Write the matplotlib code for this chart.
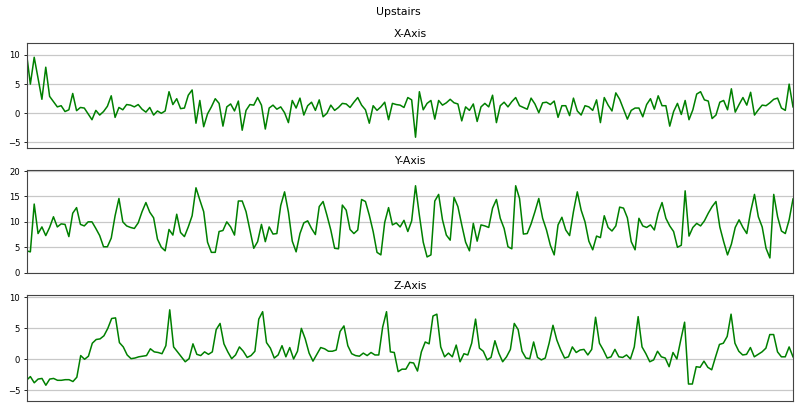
"""Upstairs accelerometer trace: X / Y / Z axis readings in three stacked panels."""
import matplotlib
matplotlib.use("Agg")
import matplotlib.pyplot as plt
import numpy as np

TITLE = "Upstairs"
PANEL_TITLES = ["X-Axis", "Y-Axis", "Z-Axis"]

x_axis = [
    10.3, 5.0, 9.6, 6.0, 2.4, 7.9, 2.9, 2.0, 1.1, 1.3, 0.3, 0.6, 3.4, 0.45, 1.0, 0.9,
    -0.1, -1.1, 0.5, -0.3, 0.3, 1.2, 3.0, -0.7, 1.0, 0.6, 1.5, 1.4, 1.1, 1.5, 0.7, 0.2,
    1.0, -0.3, 0.4, 0.0, 0.4, 3.7, 1.5, 2.5, 0.8, 0.9, 3.1, 4.0, -1.7, 2.2, -2.3, -0.1,
    1.1, 2.5, 1.7, -2.2, 1.1, 1.6, 0.4, 2.1, -2.9, 0.5, 1.5, 1.4, 2.7, 1.4, -2.7, 0.9,
    1.4, 0.7, 1.1, 0.1, -1.6, 2.2, 0.9, 2.6, -0.3, 1.3, 1.9, 0.5, 2.3, -0.6, 0.0, 1.4,
    0.5, 1.0, 1.7, 1.6, 1.0, 1.9, 2.7, 1.4, 0.6, -1.7, 1.3, 0.5, 1.1, 1.9, -1.1, 1.7,
    1.5, 1.4, 1.0, 2.7, 2.3, -4.1, 3.7, 0.6, 1.7, 2.2, -1.0, 2.2, 1.4, 1.8, 2.4, 1.8,
    1.6, -1.3, 1.1, 0.5, 1.6, -1.4, 1.1, 1.7, 1.1, 3.1, -1.6, 1.3, 1.9, 1.1, 2.0, 2.7,
    1.3, 1.0, 0.7, 2.6, 1.6, 0.1, 1.8, 1.9, 1.5, 2.1, -0.7, 1.3, 1.3, -0.4, 2.6, 0.4,
    -0.3, 1.3, 1.1, 0.5, 2.3, -1.6, 2.7, 1.4, 0.4, 3.5, 2.4, 0.7, -1.0, 0.5, 0.9, 0.9,
    -0.6, 1.5, 2.5, 0.7, 3.0, 1.3, 1.3, -2.2, 0.3, 1.7, -0.2, 2.2, -1.1, 0.6, 3.3, 3.7,
    2.3, 2.1, -0.9, -0.3, 1.9, 2.2, 0.6, 4.2, 0.2, 1.5, 2.7, 1.4, 3.6, -0.3, 0.6, 1.4,
    1.3, 1.8, 2.4, 2.6, 0.9, 0.5, 5.0, 1.1,
]

y_axis = [
    4.3, 4.1, 13.5, 7.7, 9.0, 7.3, 8.9, 11.0, 9.0, 9.6, 9.5, 7.1, 11.7, 12.8, 9.5, 9.2,
    10.0, 10.0, 8.7, 7.3, 5.1, 5.1, 6.8, 11.2, 14.6, 10.0, 9.2, 8.9, 8.7, 9.8, 12.0, 13.8,
    11.9, 10.8, 6.6, 5.0, 4.3, 8.5, 7.4, 11.5, 7.9, 7.1, 9.0, 11.2, 16.7, 14.3, 12.0, 6.0,
    4.0, 4.0, 8.1, 8.3, 10.0, 9.0, 7.4, 14.1, 14.1, 12.0, 8.4, 4.8, 6.1, 9.5, 6.1, 9.0,
    7.6, 7.7, 13.2, 15.9, 11.9, 6.2, 4.1, 7.7, 9.8, 10.2, 8.7, 7.5, 13.0, 14.0, 11.3, 8.4,
    4.8, 4.7, 13.3, 12.3, 8.5, 7.7, 8.4, 14.4, 14.0, 11.3, 8.1, 4.0, 3.5, 9.9, 12.8, 9.4,
    9.8, 9.0, 10.3, 8.1, 10.2, 17.1, 11.3, 6.0, 3.1, 3.5, 14.1, 15.4, 10.4, 7.4, 6.4, 14.8,
    13.0, 9.4, 6.0, 4.3, 9.7, 6.2, 9.4, 9.2, 8.9, 12.7, 14.4, 10.7, 8.7, 5.1, 4.7, 17.1,
    14.6, 7.6, 7.7, 9.6, 12.0, 14.6, 10.7, 8.4, 5.4, 3.5, 9.4, 10.9, 8.4, 7.3, 12.0, 15.9,
    12.3, 10.0, 6.2, 4.5, 7.2, 6.9, 11.2, 8.9, 8.2, 9.2, 12.9, 12.7, 10.8, 6.1, 4.5, 10.7,
    9.2, 8.9, 9.4, 8.4, 11.7, 13.8, 10.7, 9.2, 8.1, 5.0, 5.4, 16.1, 7.2, 8.9, 9.7, 9.2,
    10.2, 11.7, 13.0, 14.0, 9.0, 6.1, 3.5, 5.6, 8.9, 10.4, 8.9, 7.7, 12.0, 15.4, 11.0, 9.0,
    4.8, 2.9, 15.4, 11.0, 8.2, 7.7, 10.4, 14.5,
]

z_axis = [
    -3.4, -2.8, -3.8, -3.2, -3.1, -4.2, -3.2, -3.1, -3.4, -3.4, -3.3, -3.3, -3.6, -2.9, 0.6, 0.0,
    0.5, 2.6, 3.2, 3.3, 3.8, 5.0, 6.6, 6.7, 2.7, 2.0, 0.7, 0.1, 0.2, 0.4, 0.5, 0.6,
    1.7, 1.2, 1.1, 0.9, 2.2, 8.0, 2.0, 1.2, 0.4, -0.4, 0.1, 2.5, 0.8, 0.6, 1.2, 0.8,
    1.2, 4.8, 5.8, 2.5, 1.2, 0.1, 0.7, 2.0, 1.3, 0.3, 0.6, 1.3, 6.5, 7.7, 2.7, 1.8,
    0.2, 0.7, 2.2, 0.4, 1.9, 0.05, 1.3, 5.0, 3.3, 1.0, -0.3, 0.8, 1.9, 1.7, 1.3, 1.3,
    1.5, 4.5, 5.4, 2.2, 0.9, 0.6, 0.5, 1.0, 0.6, 1.1, 0.7, 0.7, 5.2, 7.7, 1.2, 1.1,
    -2.0, -1.6, -1.6, -0.5, -0.6, -1.9, 1.2, 2.8, 2.5, 7.0, 7.3, 2.0, 0.4, 1.0, 0.4, 2.3,
    -0.4, 0.9, 0.7, 2.6, 6.5, 1.8, 1.3, -0.1, 0.3, 3.0, 1.0, -0.4, 0.4, 1.6, 5.8, 4.8,
    1.3, 0.2, 0.1, 2.8, 0.3, -0.1, 0.2, 2.6, 5.5, 3.1, 1.5, 0.2, 0.4, 2.0, 1.1, 1.5,
    1.6, 0.7, 1.6, 6.8, 2.6, 1.5, 0.2, 0.4, 1.6, 0.4, 0.3, 0.7, 0.05, 2.0, 6.9, 2.0,
    0.9, -0.4, -0.1, 1.3, 0.4, 0.2, -1.2, 1.1, 0.05, 3.1, 6.0, -4.0, -4.0, -1.2, -1.3, -0.3,
    -1.3, -1.7, 0.4, 2.4, 2.6, 3.7, 7.3, 2.6, 1.3, 0.7, 0.8, 1.9, 0.4, 0.8, 1.2, 1.8,
    4.0, 4.0, 1.2, 0.4, 0.4, 2.0, 0.4,
]

SERIES = [x_axis, y_axis, z_axis]
YLIMS = [(-6.0, 12.05), (-0.12, 20.2), (-6.7, 10.4)]
YTICKS = [[-5, 0, 5, 10], [0, 5, 10, 15, 20], [-5, 0, 5, 10]]

W, H = 800, 411
# axes boxes in pixels: (top, bottom)
BOXES = [(43, 148.3), (170, 273.3), (295, 400.7)]
LEFT, RIGHT = 26.5, 793.0

fig = plt.figure(figsize=(W / 100, H / 100), dpi=100)
fig.text(398 / W, 1 - 12 / H, TITLE, ha="center", va="center", fontsize=7.8)

for vals, title, ylim, yt, (top, bot) in zip(SERIES, PANEL_TITLES, YLIMS, YTICKS, BOXES):
    ax = fig.add_axes([LEFT / W, 1 - bot / H, (RIGHT - LEFT) / W, (bot - top) / H])
    v = np.asarray(vals, float)
    ax.plot(np.arange(len(v)), v, color="#008000", lw=1.1)
    ax.set_xlim(0, len(v) - 1)
    ax.set_ylim(*ylim)
    ax.set_yticks(yt)
    ax.set_xticks([])
    ax.yaxis.grid(True, color="#c8c8c8", lw=0.9)
    ax.set_axisbelow(True)
    ax.tick_params(axis="y", labelsize=6.1, length=2.5, width=0.6, pad=2)
    for sp in ax.spines.values():
        sp.set_linewidth(0.8)
        sp.set_color("#444444")
    ax.set_title(title, fontsize=7.8, pad=4)

fig.savefig("out.png", dpi=100)
